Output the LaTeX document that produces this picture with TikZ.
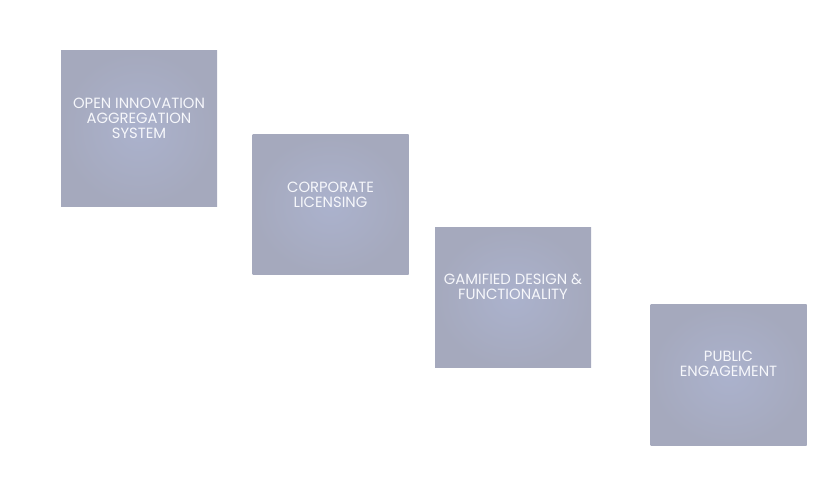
\documentclass[tikz,border=0pt]{standalone}
\usepackage{fontspec}
\setmainfont{Poppins}
\usetikzlibrary{positioning}
\definecolor{boxinner}{RGB}{171,178,205}
\definecolor{boxouter}{RGB}{165,169,189}
\definecolor{captiontext}{RGB}{246,247,251}
\begin{document}
\begin{tikzpicture}[x=1pt, y=1pt, node distance=192pt]
    \tikzstyle{box}=[rectangle, minimum width=156pt, minimum height=140pt, inner sep=0pt, shading=radial, inner color=boxinner, outer color=boxouter]
    \tikzstyle{caption}=[inner sep=0pt, align=center, text=captiontext, font=\fontsize{14.8}{15}\selectfont]
    \useasboundingbox (0,0) rectangle (838,493);
    \node (aggregation) [box, minimum height=156pt] at (139,364) {};
    \node (licensing) [box] [right of=aggregation, xshift=-0.5pt, yshift=-76pt] {};
    \node (gamified) [box] [right of=licensing, xshift=-9.5pt, yshift=-93pt] {};
    \node (engagement) [box] [right of=gamified, xshift=23.5pt, yshift=-77pt] {};

    \node (aggregation-text) [caption, below=47pt of aggregation.north] {OPEN INNOVATION\\AGGREGATION\\SYSTEM};
    \node (licensing-text) [caption, below=47pt of licensing.north] {CORPORATE\\LICENSING};
    \node (gamified-text) [caption, below=46pt of gamified.north] {GAMIFIED DESIGN \&\\FUNCTIONALITY};
    \node (engagement-text) [caption, below=46pt of engagement.north] {PUBLIC\\ENGAGEMENT};
\end{tikzpicture}
\end{document}
